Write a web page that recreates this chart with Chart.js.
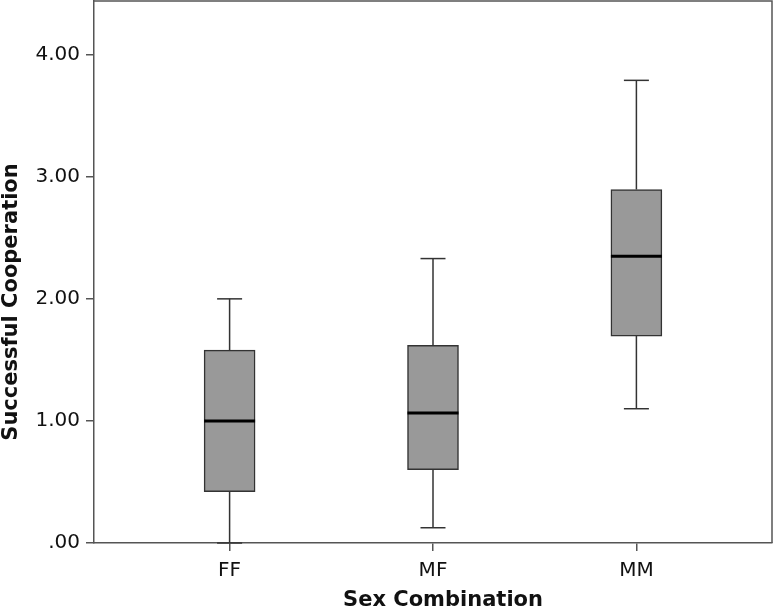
<!DOCTYPE html>
<html><head><meta charset="utf-8">
<script src="https://cdn.jsdelivr.net/npm/chart.js@4"></script>
<style>html,body{margin:0;padding:0;background:#fff}#wrap{width:774px;height:607px}</style>
</head><body><div id="wrap"><canvas id="c"></canvas></div>
<script>
const categories = ['FF', 'MF', 'MM'];
const whiskerLow = [0.00, 0.125, 1.10];
const q1 = [0.42, 0.60, 1.695];
const median = [1.00, 1.065, 2.35];
const q3 = [1.58, 1.62, 2.895];
const whiskerHigh = [2.00, 2.33, 3.79];
const yTickValues = [0, 1, 2, 3, 4];
const yTickLabels = ['.00', '1.00', '2.00', '3.00', '4.00'];
const xTitle = 'Sex Combination';
const yTitle = 'Successful Cooperation';

const xPos = categories.map((c, i) => i + 1);
const boxData = categories.map((c, i) => ({x: xPos[i], y: [q1[i], q3[i]]}));
const whiskerData = categories.flatMap((c, i) => [
  {x: xPos[i], y: whiskerLow[i]}, {x: xPos[i], y: q1[i]}, {x: xPos[i], y: null},
  {x: xPos[i], y: q3[i]}, {x: xPos[i], y: whiskerHigh[i]}, {x: xPos[i], y: null}
]);
const capData = categories.flatMap((c, i) => [
  {x: xPos[i], y: whiskerLow[i]}, {x: xPos[i], y: whiskerHigh[i]}
]);
const medianData = categories.map((c, i) => ({x: xPos[i], y: median[i]}));

const AXIS = '#555555';
const DARK = '#333333';
const FONT = "'DejaVu Sans', sans-serif";

const framePlugin = {
  id: 'frame',
  afterDraw(chart) {
    const {ctx, chartArea: a} = chart;
    ctx.save();
    ctx.strokeStyle = AXIS;
    ctx.lineWidth = 1.5;
    ctx.beginPath();
    ctx.moveTo(a.left, a.top);
    ctx.lineTo(a.right, a.top);
    ctx.lineTo(a.right, a.bottom);
    ctx.stroke();
    // axis titles
    ctx.fillStyle = '#111';
    ctx.font = "bold 21px " + FONT;
    ctx.textAlign = 'center';
    ctx.textBaseline = 'alphabetic';
    ctx.fillText(xTitle, 443, 606);
    ctx.translate(17, 302);
    ctx.rotate(-Math.PI / 2);
    ctx.fillText(yTitle, 0, 0);
    ctx.restore();
  }
};

new Chart(document.getElementById('c'), {
  type: 'bar',
  data: {
    datasets: [
      {type: 'line', data: medianData, showLine: false, pointStyle: 'line', pointRadius: 25.5,
       pointBorderWidth: 3, pointBorderColor: '#000', borderColor: '#000', order: 0, clip: false},
      {type: 'line', data: capData, showLine: false, pointStyle: 'line', pointRadius: 12.5,
       pointBorderWidth: 1.5, pointBorderColor: DARK, borderColor: DARK, order: 1, clip: false},
      {type: 'line', data: whiskerData, borderColor: DARK, borderWidth: 1.5, pointRadius: 0,
       spanGaps: false, order: 2},
      {type: 'bar', data: boxData, backgroundColor: '#999999', borderColor: DARK, borderWidth: 1.5,
       borderSkipped: false, barThickness: 51, order: 3}
    ]
  },
  options: {
    responsive: true, maintainAspectRatio: false, animation: false,
    layout: {autoPadding: false, padding: {top: 1, right: 2, left: 0, bottom: 0}},
    plugins: {legend: {display: false}, tooltip: {enabled: false}},
    scales: {
      x: {
        type: 'linear', min: 1/3, max: 11/3, offset: false,
        afterBuildTicks: s => { s.ticks = xPos.map(v => ({value: v})); },
        afterFit: s => { s.height = 64; s.paddingLeft = 0; s.paddingRight = 0; },
        ticks: {callback: (v, i) => categories[i], color: '#111', font: {family: FONT, size: 20}, padding: 8, maxRotation: 0},
        grid: {display: true, drawOnChartArea: false, drawTicks: true, tickLength: 8, color: AXIS, lineWidth: 1.5, offset: false},
        border: {display: true, color: AXIS, width: 1.5}
      },
      y: {
        type: 'linear', min: 0, max: 4.44,
        afterBuildTicks: s => { s.ticks = yTickValues.map(v => ({value: v})); },
        afterFit: s => { s.width = 94; s.paddingTop = 0; s.paddingBottom = 0; },
        ticks: {callback: (v, i) => yTickLabels[i], color: '#111', font: {family: FONT, size: 20}, padding: 6},
        grid: {display: true, drawOnChartArea: false, drawTicks: true, tickLength: 8, color: AXIS, lineWidth: 1.5},
        border: {display: true, color: AXIS, width: 1.5}
      }
    }
  },
  plugins: [framePlugin]
});
</script></body></html>
